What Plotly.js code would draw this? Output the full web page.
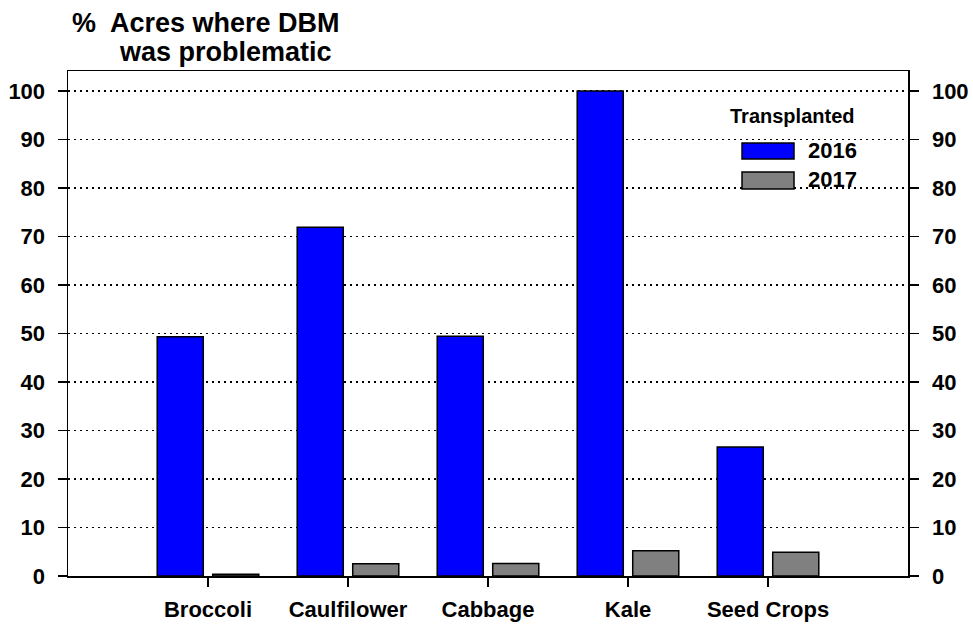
<!DOCTYPE html>
<html>
<head>
<meta charset="utf-8">
<script src="https://cdn.plot.ly/plotly-3.0.1.min.js"></script>
<style>
  html, body { margin: 0; padding: 0; background: #ffffff; }
  #chart { width: 973px; height: 624px; }
</style>
</head>
<body>
<div id="chart"></div>
<script>
// Share of acres where diamondback moth (DBM) was a problem, transplanted crops
const crops = ['Broccoli', 'Caulfilower', 'Cabbage', 'Kale', 'Seed Crops'];
const pct2016 = [49.3, 71.9, 49.4, 100, 26.6];
const pct2017 = [0.35, 2.5, 2.6, 5.2, 4.9];
const seriesNames = ['2016', '2017'];
const seriesColors = ['#0000FF', '#808080'];
const yTicks = [0, 10, 20, 30, 40, 50, 60, 70, 80, 90, 100];
const legendTitle = 'Transplanted';
const titleLines = ['%  Acres where DBM', 'was problematic'];

const FONT = 'Liberation Sans, Arial, Helvetica, sans-serif';
const yRange = [0, 104.1];

const barStyle = (color) => ({
  color: color,
  line: { color: '#000000', width: 1.5 }
});

const traces = [
  {
    type: 'bar', name: seriesNames[0], x: crops, y: pct2016,
    marker: barStyle(seriesColors[0]), hoverinfo: 'x+y+name'
  },
  {
    type: 'bar', name: seriesNames[1], x: crops, y: pct2017,
    marker: barStyle(seriesColors[1]), hoverinfo: 'x+y+name'
  },
  // invisible trace that carries the right-hand axis
  {
    type: 'scatter', x: [crops[0]], y: [0], yaxis: 'y2',
    mode: 'markers', marker: { opacity: 0 }, hoverinfo: 'skip', showlegend: false
  }
];

// Legend drawn as paper-space swatches so the boxes keep their wide shape
const swatch = (y0, y1, color) => ({
  type: 'rect', xref: 'paper', yref: 'paper',
  x0: 0.8024, x1: 0.8643, y0: y0, y1: y1,
  fillcolor: color, line: { color: '#000000', width: 1.5 }
});

const bold = (size) => ({ family: FONT, size: size, color: '#000000', weight: 'bold' });

const annotations = [
  { text: titleLines[0], x: 0.0024, y: 1.095, xanchor: 'left', yanchor: 'middle', font: bold(27) },
  { text: titleLines[1], x: 0.0583, y: 1.038, xanchor: 'left', yanchor: 'middle', font: bold(27) },
  { text: legendTitle, x: 0.862, y: 0.911, xanchor: 'center', yanchor: 'middle', font: bold(20) },
  { text: seriesNames[0], x: 0.8786, y: 0.8416, xanchor: 'left', yanchor: 'middle', font: bold(22) },
  { text: seriesNames[1], x: 0.8786, y: 0.7842, xanchor: 'left', yanchor: 'middle', font: bold(22) }
];
annotations.forEach(a => { a.xref = 'paper'; a.yref = 'paper'; a.showarrow = false; });

const tickFont = bold(22);
const gridDots = '1.5px,4.5px';

const layout = {
  width: 973, height: 624,
  margin: { l: 68, r: 65, t: 71, b: 48, pad: 0 },
  paper_bgcolor: '#ffffff', plot_bgcolor: '#ffffff',
  showlegend: false,
  barmode: 'group', bargap: 0.207, bargroupgap: 0.17,
  font: { family: FONT, color: '#000000' },
  xaxis: {
    type: 'category', range: [-1, 5],
    showline: true, linecolor: '#000000', linewidth: 1.5, mirror: true,
    ticks: 'outside', ticklen: 9, tickwidth: 1.5, tickcolor: '#000000',
    tickfont: bold(22),
    ticklabelstandoff: 4,
    showgrid: false, zeroline: false, fixedrange: true
  },
  yaxis: {
    range: yRange, tickvals: yTicks, ticktext: yTicks.map(String),
    showline: true, linecolor: '#000000', linewidth: 1.5,
    ticks: 'outside', ticklen: 9, tickwidth: 1.5, tickcolor: '#000000',
    tickfont: tickFont, ticklabelstandoff: 8,
    showgrid: true, gridcolor: '#000000', gridwidth: 1.5, griddash: gridDots,
    zeroline: false, fixedrange: true
  },
  yaxis2: {
    overlaying: 'y', side: 'right', range: yRange,
    tickvals: yTicks, ticktext: yTicks.map(String),
    showline: true, linecolor: '#000000', linewidth: 1.5,
    ticks: 'outside', ticklen: 9, tickwidth: 1.5, tickcolor: '#000000',
    tickfont: tickFont, ticklabelstandoff: 9,
    showgrid: false, zeroline: false, fixedrange: true
  },
  shapes: [
    swatch(0.8257, 0.8574, seriesColors[0]),
    swatch(0.7663, 0.8000, seriesColors[1])
  ],
  annotations: annotations
};

Plotly.newPlot('chart', traces, layout, { staticPlot: true, displayModeBar: false });
</script>
</body>
</html>
